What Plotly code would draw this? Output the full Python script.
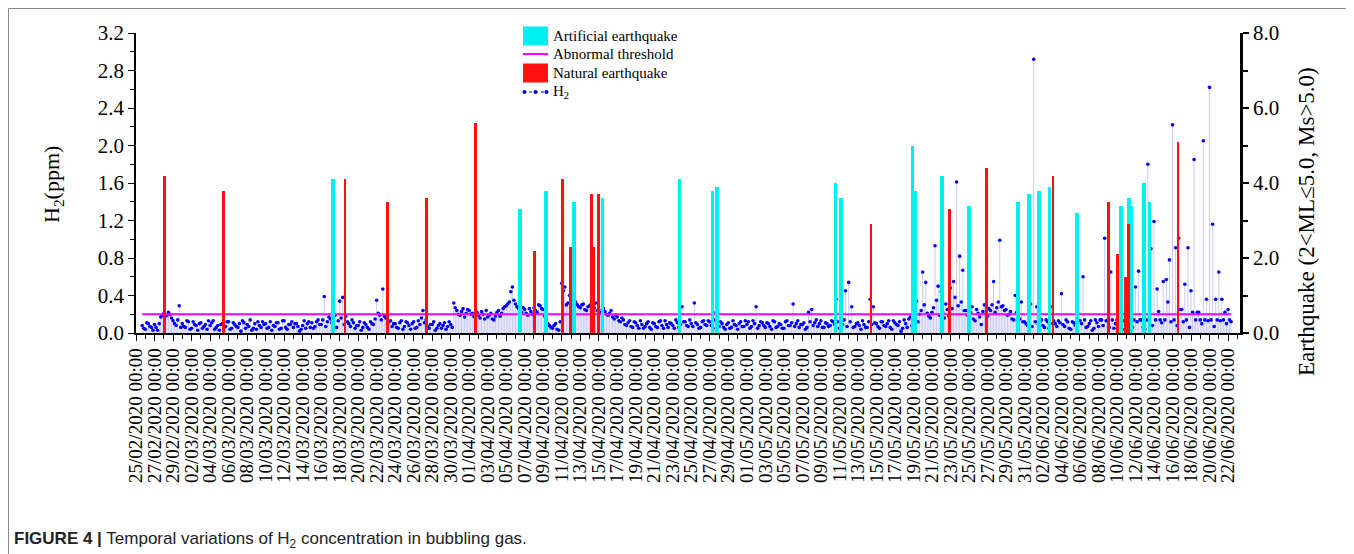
import pandas as pd
import plotly.graph_objects as go

# ---------------- H2 concentration (ppm) ----------------
# series A: one reading every 8 h from 25/02/2020 16:00
h2a_feb = [0.08,
           0.04, 0.10, 0.06,
           0.09, 0.03, 0.17,
           0.21, 0.19, 0.20,
           0.13, 0.08, 0.29]
h2a_mar = [0.10, 0.06, 0.12,  0.05, 0.09, 0.03,  0.11, 0.07, 0.04,  0.08, 0.13, 0.06,
           0.03, 0.10, 0.07,  0.12, 0.05, 0.09,  0.06, 0.02, 0.11,  0.09, 0.14, 0.05,
           0.04, 0.08, 0.12,  0.10, 0.06, 0.03,  0.07, 0.11, 0.05,  0.13, 0.04, 0.09,
           0.06, 0.10, 0.02,  0.08, 0.05, 0.12,  0.11, 0.07, 0.14,  0.09, 0.39, 0.12,
           0.15, 0.32, 0.06,  0.34, 0.38, 0.18,  0.10, 0.14, 0.05,  0.08, 0.03, 0.11,
           0.06, 0.12, 0.09,  0.35, 0.19, 0.47,  0.16, 0.12, 0.07,  0.10, 0.05, 0.13,
           0.07, 0.11, 0.04,  0.12, 0.06, 0.09,  0.24, 0.14, 0.05,  0.09, 0.03, 0.08,
           0.05, 0.11, 0.07,  0.09, 0.32, 0.24,  0.19, 0.26, 0.21]
h2a_apr = [0.24, 0.21, 0.16,  0.19, 0.23, 0.15,  0.17, 0.21, 0.14,  0.22, 0.18, 0.26,
           0.29, 0.33, 0.49,  0.31, 0.26, 0.22,  0.25, 0.19, 0.23,  0.27, 0.22, 0.29,
           0.25, 0.12, 0.08,  0.05, 0.10, 0.03,  0.53, 0.49, 0.32,  0.42, 0.38, 0.30,
           0.27, 0.31, 0.24,  0.29, 0.26, 0.32,  0.25, 0.21, 0.23,  0.19, 0.24, 0.15,
           0.17, 0.12, 0.14,  0.08, 0.13, 0.06,  0.11, 0.05, 0.09,  0.07, 0.12, 0.04,
           0.10, 0.06, 0.13,  0.05, 0.09, 0.11,  0.08, 0.14, 0.06,  0.28, 0.12, 0.07,
           0.10, 0.32, 0.09,  0.06, 0.13, 0.08,  0.12, 0.05, 0.22,  0.07, 0.10, 0.04,
           0.11, 0.06, 0.09,  0.04, 0.12, 0.07]
h2a_may = [0.09, 0.05, 0.13,  0.28, 0.08, 0.11,  0.06, 0.10, 0.04,  0.12, 0.07, 0.09,
           0.05, 0.13, 0.08,  0.31, 0.10, 0.06,  0.09, 0.04, 0.22,  0.25, 0.11, 0.07,
           0.13, 0.06, 0.10,  0.08, 0.12, 0.36,  0.05, 0.09, 0.45,  0.54, 0.28, 0.07,
           0.11, 0.04, 0.09,  0.06, 0.36, 0.28,  0.10, 0.05, 0.12,  0.07, 0.13, 0.04,
           0.11, 0.08, 0.02,  0.14, 0.06, 0.17,  0.12, 0.34, 0.20,  0.65, 0.54, 0.18,
           0.22, 0.93, 0.50,  0.44, 0.16, 0.25,  0.48, 0.55, 1.61,  0.82, 0.67, 0.24,
           0.19, 0.28, 0.13,  0.21, 0.09, 0.30,  0.18, 0.24, 0.55,  0.27, 0.99, 0.29,
           0.25, 0.20, 0.15,  0.40, 0.71, 0.33,  0.12, 0.08, 0.31]
h2a_jun = [2.92, 0.28, 0.12,  0.08, 0.14, 0.05,  0.28, 0.10, 0.13,  0.42, 0.07, 0.12,
           0.04, 0.11, 0.08,  0.13, 0.60, 0.06,  0.10, 0.03, 0.14,  0.07, 0.14, 1.01,
           0.14, 0.65, 0.05,  0.14, 0.02, 0.13,  0.37, 0.14, 0.06,  0.49, 0.66, 0.14,
           0.04, 1.80, 0.90,  1.19, 0.47, 0.14,  0.55, 0.57, 0.78,  2.22, 0.91, 1.01,
           0.25, 0.52, 0.91,  0.45, 1.85, 0.22,  0.14, 2.05, 0.36,  2.62, 1.16, 0.36,
           0.65, 0.36, 0.22,  0.25, 0.12]
h2a_start = "2020-02-25 16:00"

# series B: one reading every 8 h from 25/02/2020 20:00
h2b_feb = [0.05,
           0.11, 0.07, 0.03,
           0.06, 0.10, 0.19,
           0.18, 0.22, 0.16,
           0.10, 0.14, 0.06]
h2b_mar = [0.07, 0.13, 0.04,  0.12, 0.08, 0.10,  0.05, 0.09, 0.13,  0.11, 0.04, 0.08,
           0.09, 0.06, 0.12,  0.04, 0.11, 0.07,  0.10, 0.13, 0.05,  0.07, 0.03, 0.10,
           0.12, 0.06, 0.09,  0.05, 0.12, 0.08,  0.11, 0.04, 0.13,  0.06, 0.09, 0.12,
           0.10, 0.07, 0.04,  0.13, 0.10, 0.06,  0.05, 0.12, 0.09,  0.14, 0.07, 0.17,
           0.11, 0.19, 0.13,  0.16, 0.09, 0.12,  0.07, 0.11, 0.08,  0.12, 0.06, 0.09,
           0.04, 0.10, 0.15,  0.21, 0.14, 0.18,  0.09, 0.13, 0.10,  0.06, 0.11, 0.04,
           0.12, 0.08, 0.10,  0.05, 0.13, 0.16,  0.11, 0.07, 0.09,  0.12, 0.05, 0.10,
           0.08, 0.04, 0.12,  0.06, 0.27, 0.20,  0.23, 0.17, 0.25]
h2b_apr = [0.20, 0.18, 0.22,  0.16, 0.20, 0.24,  0.19, 0.15, 0.18,  0.24, 0.21, 0.28,
           0.31, 0.44, 0.35,  0.28, 0.24, 0.27,  0.21, 0.26, 0.20,  0.24, 0.30, 0.26,
           0.18, 0.10, 0.06,  0.08, 0.04, 0.12,  0.45, 0.30, 0.40,  0.36, 0.33, 0.28,
           0.30, 0.25, 0.28,  0.31, 0.27, 0.24,  0.22, 0.26, 0.20,  0.21, 0.17, 0.19,
           0.13, 0.16, 0.09,  0.11, 0.07, 0.12,  0.08, 0.13, 0.05,  0.10, 0.06, 0.11,
           0.07, 0.12, 0.08,  0.13, 0.06, 0.10,  0.05, 0.11, 0.09,  0.12, 0.08, 0.14,
           0.07, 0.11, 0.05,  0.12, 0.09, 0.13,  0.08, 0.14, 0.10,  0.12, 0.06, 0.09,
           0.05, 0.13, 0.08,  0.10, 0.07, 0.13]
h2b_may = [0.12, 0.07, 0.10,  0.05, 0.12, 0.08,  0.11, 0.07, 0.13,  0.06, 0.10, 0.05,
           0.12, 0.08, 0.11,  0.07, 0.13, 0.09,  0.11, 0.06, 0.12,  0.08, 0.14, 0.10,
           0.06, 0.11, 0.07,  0.13, 0.09, 0.12,  0.10, 0.14, 0.07,  0.12, 0.06, 0.10,
           0.08, 0.13, 0.06,  0.12, 0.09, 0.11,  0.07, 0.12, 0.08,  0.10, 0.06, 0.13,
           0.09, 0.12, 0.05,  0.10, 0.15, 0.08,  0.16, 0.12, 0.24,  0.30, 0.21, 0.16,
           0.27, 0.35, 0.19,  0.22, 0.31, 0.18,  0.26, 0.38, 0.29,  0.33, 0.24, 0.19,
           0.22, 0.15, 0.25,  0.17, 0.23, 0.20,  0.26, 0.30, 0.22,  0.33, 0.28, 0.24,
           0.19, 0.23, 0.14,  0.22, 0.15, 0.12,  0.10, 0.13, 0.07]
h2b_jun = [0.12, 0.09, 0.14,  0.06, 0.12, 0.10,  0.13, 0.07, 0.11,  0.09, 0.14, 0.05,
           0.12, 0.08, 0.13,  0.10, 0.14, 0.07,  0.13, 0.05, 0.11,  0.14, 0.08, 0.13,
           0.06, 0.14, 0.10,  0.13, 0.14, 0.04,  0.14, 0.09, 0.14,  0.12, 0.14, 0.06,
           0.14, 0.13, 0.08,  0.14, 0.23, 0.11,  0.14, 0.33, 0.12,  0.14, 0.08, 0.25,
           0.12, 0.14, 0.06,  0.22, 0.14, 0.22,  0.10, 0.14, 0.13,  0.14, 0.07, 0.14,
           0.13, 0.14, 0.10,  0.14]
h2b_start = "2020-02-25 20:00"

threshold = 0.2

h2a = h2a_feb + h2a_mar + h2a_apr + h2a_may + h2a_jun
h2b = h2b_feb + h2b_mar + h2b_apr + h2b_may + h2b_jun
df = pd.concat([
    pd.DataFrame({"t": pd.date_range(h2a_start, periods=len(h2a), freq="8h"), "v": h2a}),
    pd.DataFrame({"t": pd.date_range(h2b_start, periods=len(h2b), freq="8h"), "v": h2b}),
]).sort_values("t")
h2_time = list(df["t"])
h2 = list(df["v"])

# ---------------- Earthquakes (magnitude, right axis) ----------------
natural_time = ["2020-02-28 02:00", "2020-03-05 10:00", "2020-03-18 14:00", "2020-03-23 05:00",
                "2020-03-27 10:00", "2020-04-01 17:00", "2020-04-08 02:00", "2020-04-11 02:00",
                "2020-04-11 22:00", "2020-04-14 05:00", "2020-04-14 10:00", "2020-04-15 00:00",
                "2020-05-14 10:00", "2020-05-22 22:00", "2020-05-26 22:00", "2020-06-03 02:00",
                "2020-06-09 02:00", "2020-06-10 02:00", "2020-06-10 22:00", "2020-06-11 05:00",
                "2020-06-16 14:00"]
natural_mag = [4.2, 3.8, 4.1, 3.5, 3.6, 5.6, 2.2, 4.1, 2.3, 3.7, 2.3, 3.7,
               2.9, 3.3, 4.4, 4.2, 3.5, 2.1, 1.5, 2.9, 5.1]

artificial_time = ["2020-03-17 07:00", "2020-04-06 12:00", "2020-04-09 07:00", "2020-04-12 07:00",
                   "2020-04-15 10:00", "2020-04-23 17:00", "2020-04-27 07:00", "2020-04-27 19:00",
                   "2020-05-10 14:00", "2020-05-11 05:00", "2020-05-18 22:00", "2020-05-19 04:00",
                   "2020-05-22 02:00", "2020-05-25 00:00", "2020-05-30 07:00", "2020-05-31 12:00",
                   "2020-06-01 14:00", "2020-06-02 17:00", "2020-06-05 17:00", "2020-06-10 10:00",
                   "2020-06-11 07:00", "2020-06-11 12:00", "2020-06-12 22:00", "2020-06-13 12:00"]
artificial_mag = [4.1, 3.3, 3.8, 3.5, 3.6, 4.1, 3.8, 3.9, 4.0, 3.6, 5.0, 3.8,
                  4.2, 3.4, 3.5, 3.7, 3.8, 3.9, 3.2, 3.4, 3.6, 3.4, 4.0, 3.5]

legend_labels = ["Artificial earthquake", "Abnormal threshold", "Natural earthquake", "H<sub>2</sub>"]

DAY = 86400000
SERIF = "Liberation Serif"
CYAN, RED, MAGENTA, BLUE = "#00F0F0", "#FF1010", "#FF00FF", "#0000FF"

fig = go.Figure()

fig.add_trace(go.Bar(
    x=artificial_time, y=artificial_mag, yaxis="y2", name=legend_labels[0],
    marker=dict(color=CYAN, line=dict(width=0)), width=[0.40 * DAY] * len(artificial_mag)))
fig.add_trace(go.Bar(
    x=natural_time, y=natural_mag, yaxis="y2", name=legend_labels[2],
    marker=dict(color=RED, line=dict(width=0)), width=[0.30 * DAY] * len(natural_mag)))

fig.add_trace(go.Scatter(
    x=h2_time, y=h2, mode="markers", name=legend_labels[3],
    marker=dict(color=BLUE, size=3.6),
    error_y=dict(type="data", symmetric=False, array=[0] * len(h2), arrayminus=h2,
                 color="rgba(150,150,240,0.5)", thickness=1, width=0)))

fig.add_trace(go.Scatter(
    x=[h2_time[0], h2_time[-1]], y=[threshold, threshold], mode="lines",
    name=legend_labels[1], line=dict(color=MAGENTA, width=2)))

# page body has an 8 px margin: figure coords = screen coords - 8
OFF = 8
W, H = 1354 - OFF, 554 - OFF
L, R, T, B = 136 - OFF, 114, 33 - OFF, 221
pw, ph = W - L - R, H - T - B


def px(x):
    return (x - OFF - L) / pw


def py(y):
    return (H - B - (y - OFF)) / ph


# ---------- legend (drawn as shapes + text) ----------
LX0, LX1, LTX = 523, 548, 551
row_y = [36, 54, 73, 92]
legend_shapes = [
    dict(type="rect", xref="paper", yref="paper", x0=px(LX0), x1=px(LX1),
         y0=py(row_y[0] + 9.5), y1=py(row_y[0] - 9.5), fillcolor=CYAN, line=dict(width=0)),
    dict(type="line", xref="paper", yref="paper", x0=px(LX0), x1=px(LX1),
         y0=py(row_y[1]), y1=py(row_y[1]), line=dict(color=MAGENTA, width=2)),
    dict(type="rect", xref="paper", yref="paper", x0=px(LX0), x1=px(LX1),
         y0=py(row_y[2] + 9.5), y1=py(row_y[2] - 9.5), fillcolor=RED, line=dict(width=0)),
    dict(type="line", xref="paper", yref="paper", x0=px(LX0), x1=px(LX1),
         y0=py(row_y[3]), y1=py(row_y[3]), line=dict(color=BLUE, width=1.2, dash="dot")),
]
for cx in (LX0 + 1.5, (LX0 + LX1) / 2, LX1 - 1.5):
    legend_shapes.append(dict(type="circle", xref="paper", yref="paper",
                              x0=px(cx - 2), x1=px(cx + 2), y0=py(row_y[3] + 2), y1=py(row_y[3] - 2),
                              fillcolor=BLUE, line=dict(width=0)))
legend_texts = [dict(text=lab, xref="paper", yref="paper", x=px(LTX), y=py(ry),
                     xanchor="left", yanchor="middle", showarrow=False,
                     font=dict(family=SERIF, size=15, color="black"))
                for lab, ry in zip(legend_labels, row_y)]

fig.update_layout(
    width=W, height=H,
    margin=dict(l=L, r=R, t=T, b=B),
    paper_bgcolor="white", plot_bgcolor="white",
    barmode="overlay", bargap=0,
    font=dict(family=SERIF, color="black"),
    showlegend=False,
    xaxis=dict(
        type="date", range=["2020-02-24 23:50", "2020-06-23 07:00"],
        tick0="2020-02-25", dtick=2 * DAY, tickformat="%d/%m/%Y %H:%M", tickangle=-90,
        tickfont=dict(family=SERIF, size=19, color="black"),
        showline=True, linecolor="black", linewidth=1.5, mirror=False,
        ticks="outside", ticklen=6, tickwidth=1.2, tickcolor="black",
        minor=dict(tick0="2020-02-25", dtick=DAY, ticks="outside", ticklen=4,
                   tickwidth=1, tickcolor="black"),
        showgrid=False, zeroline=False),
    yaxis=dict(
        range=[0, 3.2], dtick=0.4, tick0=0, tickformat=".1f",
        tickfont=dict(family=SERIF, size=21, color="black"),
        showline=True, linecolor="black", linewidth=1.5,
        ticks="outside", ticklen=6, tickwidth=1.2, tickcolor="black",
        minor=dict(dtick=0.2, ticks="outside", ticklen=4, tickwidth=1, tickcolor="black"),
        showgrid=False, zeroline=False),
    yaxis2=dict(
        overlaying="y", side="right", range=[0, 8], dtick=2, tick0=0, tickformat=".1f",
        tickfont=dict(family=SERIF, size=21, color="black"),
        showline=True, linecolor="black", linewidth=2.5,
        ticks="outside", ticklen=6, tickwidth=1.5, tickcolor="black",
        minor=dict(dtick=1, ticks="outside", ticklen=5, tickwidth=1.5, tickcolor="black"),
        showgrid=False, zeroline=False),
    annotations=[
        dict(text="H<sub>2</sub>(ppm)", xref="paper", yref="paper", x=px(53), y=py(185),
             textangle=-90, showarrow=False, font=dict(family=SERIF, size=22, color="black"),
             xanchor="center", yanchor="middle"),
        dict(text="Earthquake (2<ML≤5.0, Ms>5.0)", xref="paper", yref="paper",
             x=px(1306), y=py(222), textangle=-90, showarrow=False,
             font=dict(family=SERIF, size=23, color="black"), xanchor="center", yanchor="middle"),
        dict(text="<b>FIGURE 4 |</b> Temporal variations of H<sub>2</sub> concentration in bubbling gas.",
             xref="paper", yref="paper", x=px(12), y=py(540), xanchor="left", yanchor="middle",
             showarrow=False, font=dict(family="Liberation Sans", size=17, color="#222222")),
    ] + legend_texts,
    shapes=[
        dict(type="rect", xref="paper", yref="paper", x0=px(8.5), x1=px(1350), y0=py(570), y1=py(8.5),
             line=dict(color="#8a8a8a", width=1), fillcolor="rgba(0,0,0,0)", layer="below"),
    ] + legend_shapes,
)

fig.write_html("out.html")
